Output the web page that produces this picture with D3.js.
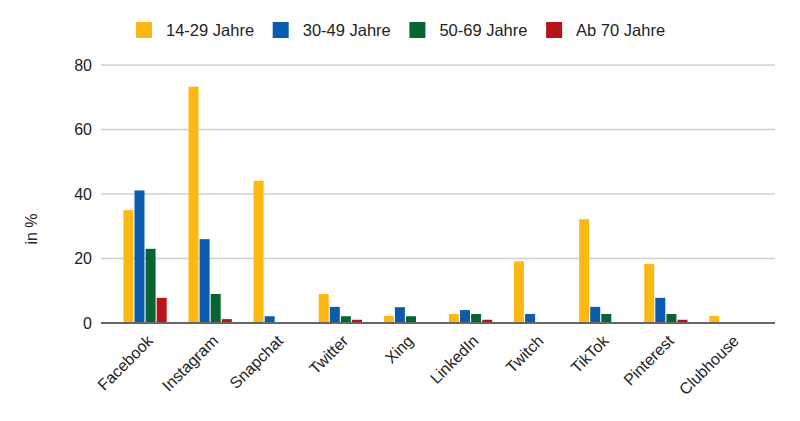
<!DOCTYPE html>
<html>
<head>
<meta charset="utf-8">
<script src="https://cdn.jsdelivr.net/npm/d3@7"></script>
<style>
  html, body { margin: 0; padding: 0; background: #fff; }
  svg { display: block; font-family: "Liberation Sans", Arial, sans-serif; }
</style>
</head>
<body>
<svg id="chart" width="800" height="421"></svg>
<script>
const categories = ["Facebook", "Instagram", "Snapchat", "Twitter", "Xing", "LinkedIn", "Twitch", "TikTok", "Pinterest", "Clubhouse"];
const seriesNames = ["14-29 Jahre", "30-49 Jahre", "50-69 Jahre", "Ab 70 Jahre"];
const values14_29 = [35, 73.3, 44.1, 9, 2.2, 2.8, 19.1, 32.2, 18.3, 2.2];
const values30_49 = [41.1, 26, 2.1, 5, 4.9, 4, 2.8, 5, 7.8, 0];
const values50_69 = [23, 9, 0, 2.1, 2.1, 2.8, 0, 2.8, 2.8, 0];
const values70plus = [7.8, 1.2, 0, 1, 0, 1, 0, 0, 1, 0];
const yTicks = [0, 20, 40, 60, 80];
const colors = ["#FDB813", "#0B5CAD", "#0A6333", "#B8121A"];

const seriesValues = [values14_29, values30_49, values50_69, values70plus];

const svg = d3.select("#chart");
const plotLeft = 101, plotRight = 775, plotTop = 65, plotBottom = 323;

const y = d3.scaleLinear().domain([0, 80]).range([plotBottom, plotTop]);
const x0 = d3.scaleBand().domain(categories).range([plotLeft, plotRight])
  .paddingInner(0.335).paddingOuter(0.344);
const x1 = d3.scaleBand().domain(seriesNames).range([0, x0.bandwidth()]).paddingInner(0.1);

// gridlines
svg.append("g").selectAll("line").data(yTicks.filter(t => t !== 0)).join("line")
  .attr("x1", plotLeft).attr("x2", plotRight)
  .attr("y1", d => y(d)).attr("y2", d => y(d))
  .attr("stroke", "#cfcfcf").attr("stroke-width", 1.5);

// y tick labels
svg.append("g").selectAll("text").data(yTicks).join("text")
  .attr("x", 92).attr("y", d => y(d)).attr("dy", "0.36em")
  .attr("text-anchor", "end").attr("font-size", 16).attr("fill", "#222")
  .text(d => d);

// y axis title
svg.append("text")
  .attr("transform", `translate(37,229) rotate(-90)`)
  .attr("text-anchor", "middle").attr("font-size", 16).attr("fill", "#222")
  .text("in %");

// bars
const groups = svg.append("g").selectAll("g").data(categories).join("g")
  .attr("transform", d => `translate(${x0(d)},0)`);
groups.selectAll("rect")
  .data((c, i) => seriesNames.map((s, j) => ({ s, j, v: seriesValues[j][i] })))
  .join("rect")
  .attr("x", d => x1(d.s))
  .attr("width", x1.bandwidth())
  .attr("y", d => y(d.v))
  .attr("height", d => y(0) - y(d.v))
  .attr("fill", d => colors[d.j]);

// baseline
svg.append("line")
  .attr("x1", plotLeft).attr("x2", plotRight)
  .attr("y1", y(0)).attr("y2", y(0))
  .attr("stroke", "#666").attr("stroke-width", 2);

// x labels
svg.append("g").selectAll("text").data(categories).join("text")
  .attr("transform", d => `translate(${x0(d) + x0.bandwidth() / 2 + 1},${plotBottom + 11}) rotate(-45)`)
  .attr("text-anchor", "end").attr("dy", "0.7em").attr("font-size", 16).attr("fill", "#222")
  .text(d => d);

// legend
const legend = svg.append("g").selectAll("g").data(seriesNames).join("g")
  .attr("transform", (d, i) => `translate(${136 + i * 136.7},22)`);
legend.append("rect").attr("width", 16).attr("height", 16).attr("fill", (d, i) => colors[i]);
legend.append("text").attr("x", 30).attr("y", 8).attr("dy", "0.36em")
  .attr("font-size", 16.5).attr("fill", "#222").text(d => d);
</script>
</body>
</html>
